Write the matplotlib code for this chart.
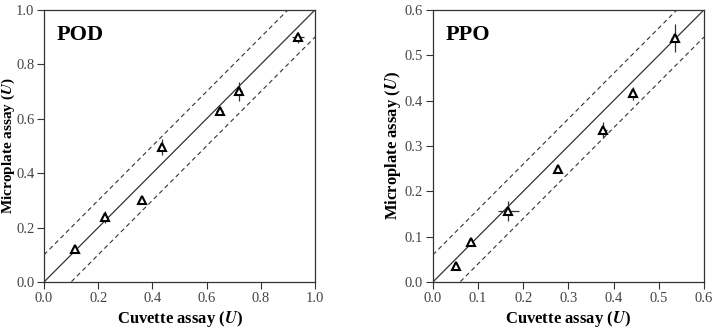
import numpy as np
import matplotlib
matplotlib.use("Agg")
import matplotlib.pyplot as plt

plt.rcParams['font.family'] = ['Liberation Serif', 'DejaVu Serif']
plt.rcParams['mathtext.fontset'] = 'stix'

# POD data
pod_x = [0.115, 0.225, 0.36, 0.435, 0.648, 0.72, 0.938]
pod_y = [0.12, 0.237, 0.30, 0.495, 0.63, 0.70, 0.90]
pod_xerr = [0.005, 0.008, 0.005, 0.005, 0.012, 0.01, 0.022]
pod_yerr = [0.008, 0.022, 0.008, 0.03, 0.012, 0.035, 0.02]
pod_band = 0.1

# PPO data
ppo_x = [0.05, 0.085, 0.167, 0.277, 0.377, 0.442, 0.535]
ppo_y = [0.035, 0.088, 0.157, 0.25, 0.335, 0.416, 0.538]
ppo_xerr = [0.003, 0.004, 0.024, 0.003, 0.008, 0.006, 0.008]
ppo_yerr = [0.004, 0.005, 0.022, 0.005, 0.018, 0.015, 0.03]
ppo_band = 0.06

fig = plt.figure(figsize=(7.16, 3.29), dpi=100)
ax1 = fig.add_axes([0.0615, 0.143, 0.3785, 0.827])
ax2 = fig.add_axes([0.6047, 0.143, 0.3785, 0.827])


def panel(ax, x, y, xerr, yerr, band, lim, step, name, ylab_x, ylab_size):
    line = np.array([0, lim])
    ax.plot(line, line, c="#333333", lw=0.9)
    ax.plot(line, line + band, c="#333333", lw=0.8, ls=(0, (4, 3)))
    ax.plot(line, line - band, c="#333333", lw=0.8, ls=(0, (4, 3)))
    ax.errorbar(x, y, xerr=xerr, yerr=yerr, fmt="^", ms=5.5, mfc="white",
                mec="black", mew=1.5, ecolor="#333333", elinewidth=0.9,
                capsize=0, zorder=3)
    ax.set_xlim(0, lim)
    ax.set_ylim(0, lim)
    ticks = np.round(np.arange(0, lim + step / 2, step), 2)
    ax.set_xticks(ticks)
    ax.set_yticks(ticks)
    ax.set_xticklabels(["%.1f" % t for t in ticks])
    ax.set_yticklabels(["%.1f" % t for t in ticks])
    ax.tick_params(direction="out", length=5, width=0.8, labelsize=10.5,
                   pad=2, colors="#333333", labelcolor="#444444")
    for s in ax.spines.values():
        s.set_linewidth(0.9)
        s.set_color("#333333")
    ax.set_xlabel("Cuvette assay ($\\mathbfit{U}$)", fontsize=12,
                  fontweight="bold", labelpad=3)
    ax.set_ylabel("Microplate assay ($\\mathbfit{U}$)", fontsize=ylab_size,
                  fontweight="bold")
    ax.yaxis.set_label_coords(ylab_x, 0.5)
    ax.text(0.048, 0.945, name, transform=ax.transAxes, fontsize=16,
            fontweight="bold", va="top", ha="left")


panel(ax1, pod_x, pod_y, pod_xerr, pod_yerr, pod_band, 1.0, 0.2, "POD",
      -0.098, 11)
panel(ax2, ppo_x, ppo_y, ppo_xerr, ppo_yerr, ppo_band, 0.6, 0.1, "PPO",
      -0.11, 12)

fig.savefig("out.png", dpi=100)
